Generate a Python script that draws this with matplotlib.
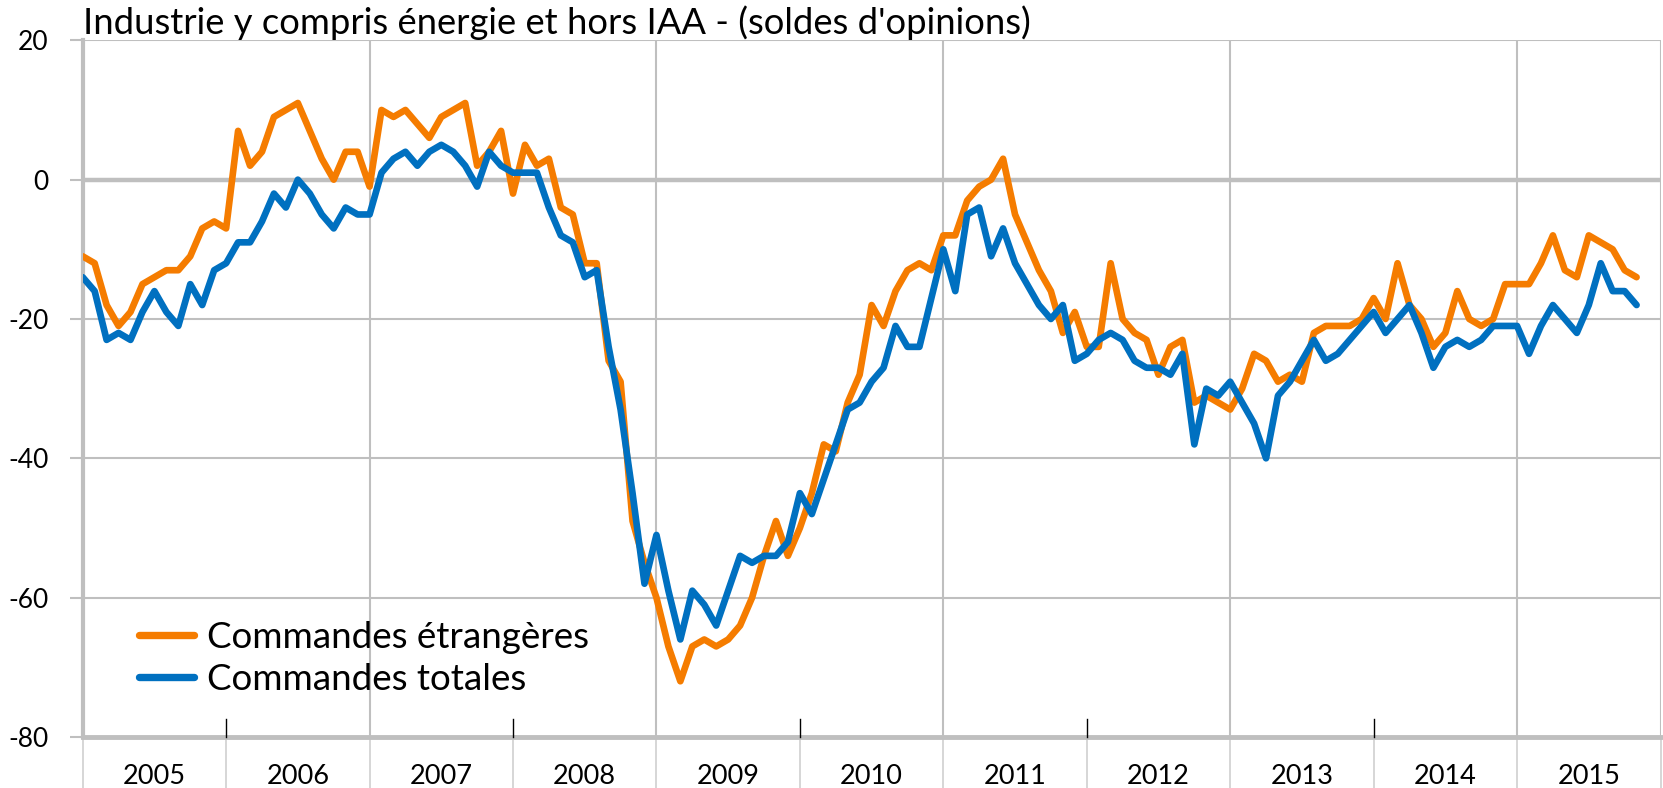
import numpy as np
import matplotlib
matplotlib.use("Agg")
import matplotlib.pyplot as plt
import matplotlib.transforms as mtransforms
from matplotlib.lines import Line2D

plt.rcParams['font.family'] = ['Lato', 'DejaVu Sans']
plt.rcParams['axes.unicode_minus'] = False

title = "Industrie y compris énergie et hors IAA - (soldes d'opinions)"
years = [2005, 2006, 2007, 2008, 2009, 2010, 2011, 2012, 2013, 2014, 2015]
series_names = ["Commandes étrangères", "Commandes totales"]
yticks = [-80, -60, -40, -20, 0, 20]

# monthly values, Jan 2005 -> Nov 2015
etrangeres = [
    -11, -12, -18, -21, -19, -15, -14, -13, -13, -11, -7, -6,
    -7, 7, 2, 4, 9, 10, 11, 7, 3, 0, 4, 4,
    -1, 10, 9, 10, 8, 6, 9, 10, 11, 2, 4, 7,
    -2, 5, 2, 3, -4, -5, -12, -12, -26, -29, -49, -55,
    -60, -67, -72, -67, -66, -67, -66, -64, -60, -54, -49, -54,
    -50, -45, -38, -39, -32, -28, -18, -21, -16, -13, -12, -13,
    -8, -8, -3, -1, 0, 3, -5, -9, -13, -16, -22, -19,
    -24, -24, -12, -20, -22, -23, -28, -24, -23, -32, -31, -32,
    -33, -30, -25, -26, -29, -28, -29, -22, -21, -21, -21, -20,
    -17, -20, -12, -18, -20, -24, -22, -16, -20, -21, -20, -15,
    -15, -15, -12, -8, -13, -14, -8, -9, -10, -13, -14,
]
totales = [
    -14, -16, -23, -22, -23, -19, -16, -19, -21, -15, -18, -13,
    -12, -9, -9, -6, -2, -4, 0, -2, -5, -7, -4, -5,
    -5, 1, 3, 4, 2, 4, 5, 4, 2, -1, 4, 2,
    1, 1, 1, -4, -8, -9, -14, -13, -24, -33, -45, -58,
    -51, -59, -66, -59, -61, -64, -59, -54, -55, -54, -54, -52,
    -45, -48, -43, -38, -33, -32, -29, -27, -21, -24, -24, -17,
    -10, -16, -5, -4, -11, -7, -12, -15, -18, -20, -18, -26,
    -25, -23, -22, -23, -26, -27, -27, -28, -25, -38, -30, -31,
    -29, -32, -35, -40, -31, -29, -26, -23, -26, -25, -23, -21,
    -19, -22, -20, -18, -22, -27, -24, -23, -24, -23, -21, -21,
    -21, -25, -21, -18, -20, -22, -18, -12, -16, -16, -18,
]

ORANGE = '#F57C00'
BLUE = '#0070C0'
GRID = '#BFBFBF'

W, H = 1663, 788
fig = plt.figure(figsize=(W / 100, H / 100), dpi=100)
left, right, top, bottom = 82.7, 1660.5, 40.3, 737.0
ax = fig.add_axes([left / W, 1 - bottom / H, (right - left) / W, (bottom - top) / H])

n_months = 12 * len(years)
ax.set_xlim(0, n_months)
ax.set_ylim(min(yticks), max(yticks))

# horizontal grid
ax.set_yticks(yticks)
ax.set_yticklabels([str(v) for v in yticks])
ax.yaxis.grid(True, color=GRID, lw=1.5, zorder=0)
ax.axhline(0, color=GRID, lw=3.2, zorder=0.5)
ax.tick_params(axis='y', direction='out', length=9.4, width=1.5, color=GRID,
               pad=15, labelsize=19, labelcolor='black')

for s in ['top', 'right']:
    ax.spines[s].set_visible(False)
ax.spines['left'].set_color(GRID)
ax.spines['left'].set_linewidth(3.0)
ax.spines['bottom'].set_color(GRID)
ax.spines['bottom'].set_linewidth(3.5)

trans = mtransforms.blended_transform_factory(ax.transData, ax.transAxes)
boundaries = [12 * k for k in range(len(years) + 1)]
for k, b in enumerate(boundaries):
    # separators below the axis between year labels
    ax.plot([b, b], [0, -0.08], transform=trans, color='#D0D0D0', lw=1.2,
            clip_on=False, zorder=0)
    if k % 2 == 0 or b == n_months:
        ax.axvline(b, color=GRID, lw=1.5, zorder=0)
    else:
        ax.plot([b, b], [0, 0.026], transform=trans, color='black', lw=1.0,
                clip_on=False, zorder=3)

# year labels
ax.set_xticks([b + 6 for b in boundaries[:-1]])
ax.set_xticklabels([str(y) for y in years])
ax.tick_params(axis='x', length=0, pad=19.5, labelsize=19.5)

x = np.arange(len(etrangeres))
ax.plot(x, etrangeres, color=ORANGE, lw=4.8, solid_joinstyle='round',
        solid_capstyle='round', zorder=4)
ax.plot(np.arange(len(totales)), totales, color=BLUE, lw=4.8,
        solid_joinstyle='round', solid_capstyle='round', zorder=5)

handles = [Line2D([], [], color=ORANGE, lw=5.3, solid_capstyle='round'),
           Line2D([], [], color=BLUE, lw=5.3, solid_capstyle='round')]
leg = ax.legend(handles, series_names, loc='upper left',
                bbox_to_anchor=(139 / W, 1 - 621 / H), bbox_transform=fig.transFigure,
                frameon=False, fontsize=26.5, handlelength=1.5, handletextpad=0.34,
                borderpad=0, borderaxespad=0, labelspacing=0.25)

fig.text(83 / W, 1 - 34 / H, title, fontsize=26.2, ha='left', va='baseline')

fig.savefig('out.png', dpi=100)
